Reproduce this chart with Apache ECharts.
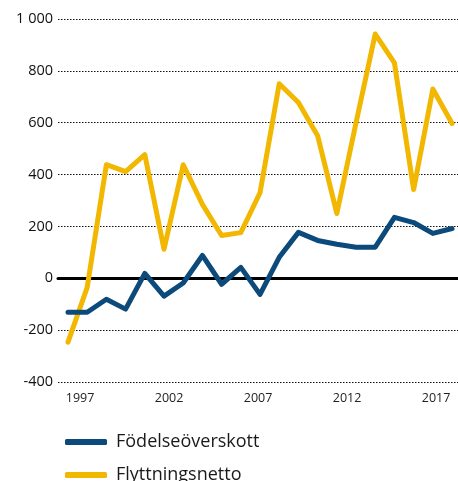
<!DOCTYPE html>
<html>
<head>
<meta charset="utf-8">
<script src="https://cdn.jsdelivr.net/npm/echarts@6/dist/echarts.min.js"></script>
<style>
  html, body { margin: 0; padding: 0; background: #fff; }
  #main { width: 458px; height: 481px; }
</style>
</head>
<body>
<div id="main"></div>
<script>
// years 1997-2017
var years = [1997, 1998, 1999, 2000, 2001, 2002, 2003, 2004, 2005, 2006, 2007,
  2008, 2009, 2010, 2011, 2012, 2013, 2014, 2015, 2016, 2017];
var fodelseoverskott = [-131, -131, -81, -119, 19, -69, -18, 88, -23, 42, -62,
  81, 177, 146, 131, 120, 120, 235, 215, 173, 192];
var flyttningsnetto = [-246, -35, 438, 411, 477, 112, 438, 285, 165, 176, 330,
  750, 678, 550, 250, 600, 942, 831, 342, 730, 597];
var yearLabels = [1997, 2002, 2007, 2012, 2017];
var yTicks = [-400, -200, 0, 200, 400, 600, 800, 1000];

var font = '"Open Sans", "Noto Sans", sans-serif';
var blue = '#0b4a7b';
var yellow = '#f2b700';

function pairs(vals) {
  return years.map(function (y, i) { return [y, vals[i]]; });
}

function legendFor(name, top) {
  return {
    left: 60,
    top: top,
    itemWidth: 42,
    itemHeight: 6,
    icon: 'roundRect',
    textStyle: { fontFamily: font, fontSize: 18, color: '#1a1a1a', padding: [0, 0, 0, 4] },
    data: [name]
  };
}

var myChart = echarts.init(document.getElementById('main'));
myChart.setOption({
  animation: false,
  grid: { left: 58, right: 0, top: 19, bottom: 99 },
  xAxis: [{
    type: 'value',
    min: 1996.48,
    max: 2017.31,
    axisLine: { show: true, onZero: true, lineStyle: { color: '#000', width: 3 } },
    axisTick: { show: false },
    axisLabel: { show: false },
    splitLine: { show: false }
  }, {
    type: 'value',
    position: 'bottom',
    min: 1995.76,
    max: 2018.23,
    axisLine: { show: false },
    axisTick: { show: false },
    splitLine: { show: false },
    axisLabel: {
      customValues: yearLabels,
      formatter: function (v) { return String(v); },
      margin: 10,
      fontFamily: font,
      fontSize: 12.5,
      color: '#222'
    }
  }],
  yAxis: {
    type: 'value',
    min: -400,
    max: 1000,
    interval: 200,
    axisLine: { show: false },
    axisTick: { show: false },
    axisLabel: {
      margin: 5,
      fontFamily: font,
      fontSize: 14.5,
      color: '#111',
      formatter: function (v) {
        return yTicks.indexOf(v) >= 0 ? String(v).replace(/\B(?=(\d{3})+(?!\d))/g, ' ') : '';
      }
    },
    splitLine: { show: true, lineStyle: { type: [1.5, 1.5], color: '#111', width: 1 } }
  },
  legend: [legendFor('Födelseöverskott', 428), legendFor('Flyttningsnetto', 461)],
  series: [{
    name: 'Födelseöverskott',
    type: 'line',
    xAxisIndex: 0,
    data: pairs(fodelseoverskott),
    symbol: 'none',
    z: 3,
    lineStyle: { color: blue, width: 5, join: 'round', cap: 'round' },
    itemStyle: { color: blue }
  }, {
    name: 'Flyttningsnetto',
    type: 'line',
    xAxisIndex: 0,
    data: pairs(flyttningsnetto),
    symbol: 'none',
    z: 2,
    lineStyle: { color: yellow, width: 5, join: 'round', cap: 'round' },
    itemStyle: { color: yellow }
  }]
});
</script>
</body>
</html>
